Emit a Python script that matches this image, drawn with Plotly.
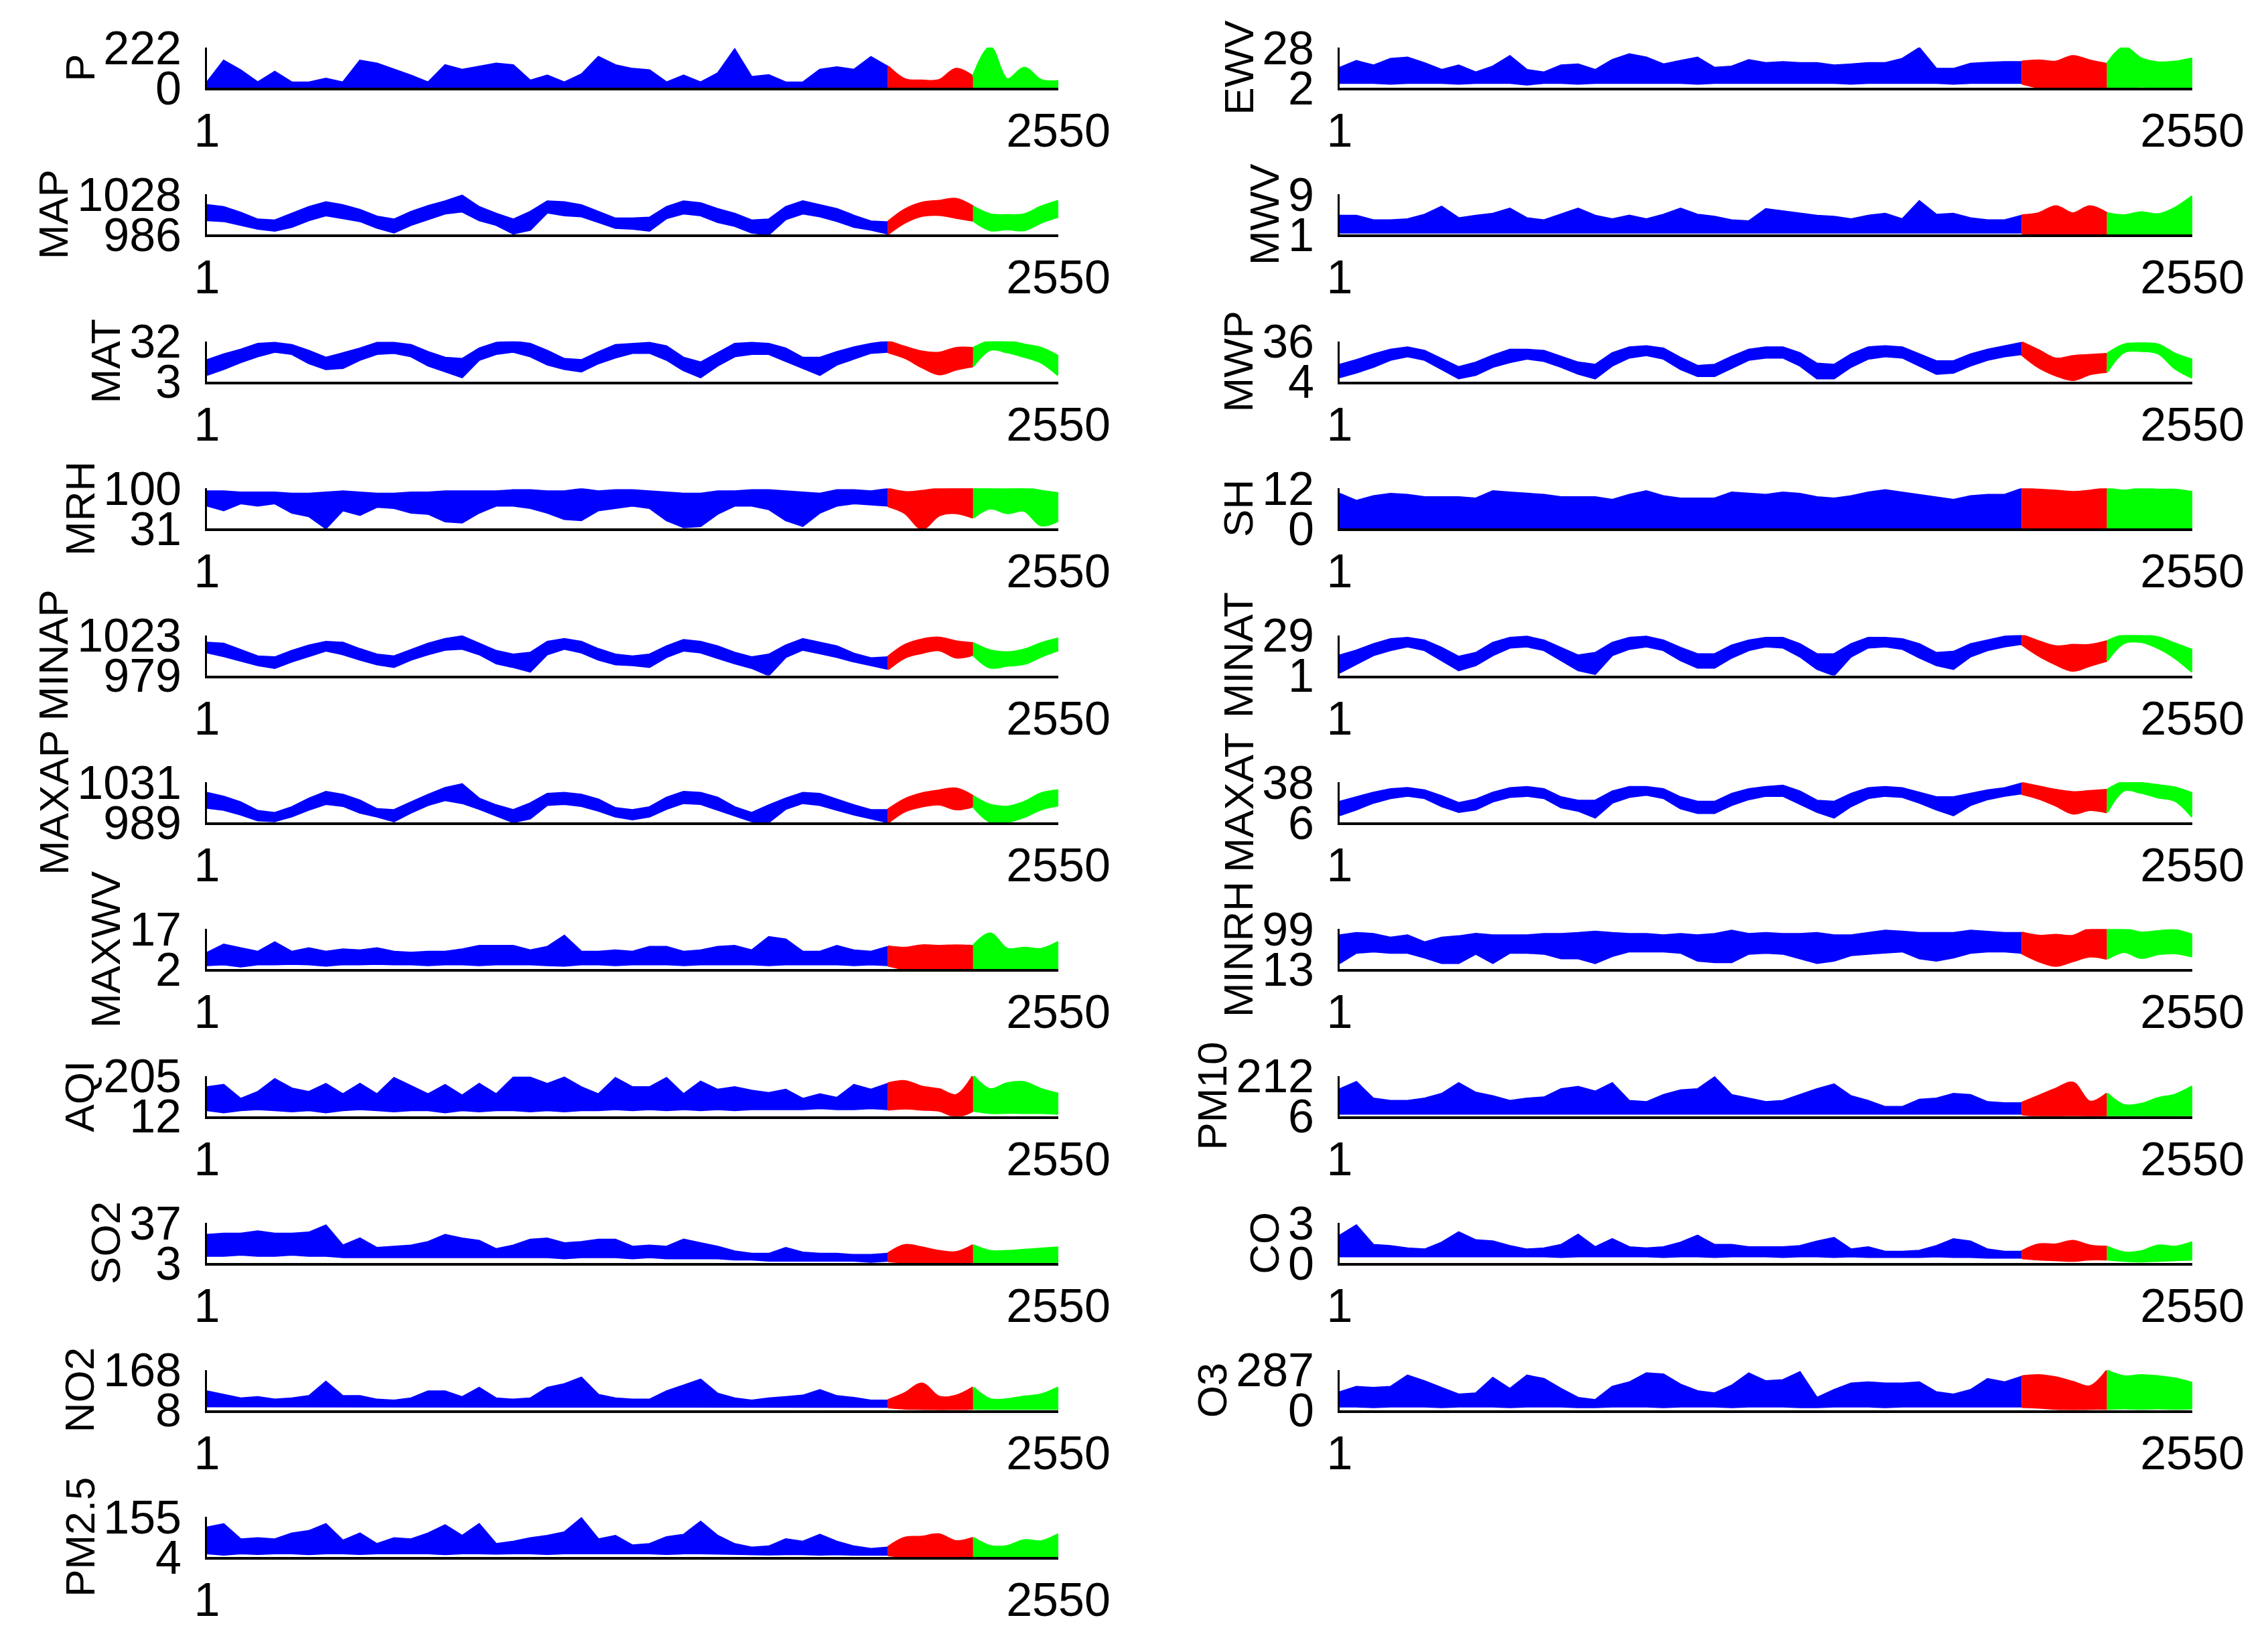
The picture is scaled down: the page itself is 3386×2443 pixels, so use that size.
import plotly.graph_objects as go

# ---------------- sample positions (day index) ----------------
sample_x = [1] + [51 * k for k in range(1, 51)]   # 51 samples, 1 .. 2550
BLUE_END = 40      # index 2040 : end of training part
RED_END = 45       # index 2295 : end of validation part

# ---------------- panel names and y limits ----------------
left_names = ["P", "MAP", "MAT", "MRH", "MINAP", "MAXAP", "MAXWV", "AQI", "SO2", "NO2", "PM2.5"]
left_ymin = [0, 986, 3, 31, 979, 989, 2, 12, 3, 8, 4]
left_ymax = [222, 1028, 32, 100, 1023, 1031, 17, 205, 37, 168, 155]

right_names = ["EWV", "MWV", "MWP", "SH", "MINAT", "MAXAT", "MINRH", "PM10", "CO", "O3"]
right_ymin = [2, 1, 4, 0, 1, 6, 13, 6, 0, 0]
right_ymax = [28, 9, 36, 12, 29, 38, 99, 212, 3, 287]

# ---------------- series envelopes (upper / lower) ----------------
P_hi = [30, 150, 97, 30, 89, 30, 30, 51, 30, 150, 134, 100, 68, 30, 125, 100, 116, 134, 125, 40,
        68, 30, 74, 171, 125, 105, 97, 30, 68, 30, 80, 213, 60, 70, 30, 30, 100, 114, 100, 170,
        116, 45, 38, 40, 103, 60, 222, 45, 108, 40, 35]
P_lo = [0, 0, 0, 0, 0, 0, 0, 0, 0, 0, 0, 0, 0, 0, 0, 0, 0, 0, 0, 0,
        0, 0, 0, 0, 0, 0, 0, 0, 0, 0, 0, 0, 0, 0, 0, 0, 0, 0, 0, 0,
        0, 0, 0, 0, 0, 0, 0, 0, 0, 0, 0]

MAP_hi = [1017, 1015, 1009, 1002, 1001, 1008, 1015, 1020, 1017, 1012, 1005, 1002, 1010, 1016, 1021, 1027, 1015, 1008, 1002, 1010,
          1021, 1020, 1017, 1010, 1003, 1003, 1004, 1015, 1021, 1019, 1013, 1008, 1001, 1002, 1015, 1021, 1017, 1013, 1006, 1000,
          999, 1012, 1019, 1021, 1023, 1015, 1007, 1006, 1007, 1015, 1021]
MAP_lo = [1001, 1000, 996, 992, 990, 994, 1001, 1006, 1003, 1000, 993, 988, 996, 1002, 1008, 1010, 1001, 996, 987, 991,
          1009, 1006, 1005, 999, 993, 992, 990, 1003, 1008, 1006, 999, 995, 988, 986, 1002, 1008, 1005, 1000, 994, 991,
          987, 999, 1006, 1007, 1004, 1001, 991, 992, 991, 999, 1005]

MAT_hi = [18.6, 22.8, 26.1, 30.3, 31.1, 29.5, 25.3, 20.3, 23.6, 27.0, 31.1, 31.1, 29.5, 24.4, 20.3, 19.4, 27.0, 31.1, 32.0, 30.3,
          25.3, 19.4, 18.6, 24.4, 29.5, 30.3, 31.1, 28.6, 20.3, 16.9, 23.6, 30.3, 31.1, 30.3, 27.0, 20.3, 20.3, 24.4, 27.8, 30.3,
          32.0, 27.8, 24.4, 23.6, 27.0, 27.0, 32.0, 32.0, 29.5, 27.0, 21.1]
MAT_lo = [7.7, 11.9, 16.9, 21.1, 24.4, 22.8, 16.1, 11.9, 12.7, 18.6, 22.8, 23.6, 21.1, 14.4, 10.2, 6.0, 18.6, 22.8, 24.4, 21.1,
          15.2, 11.9, 10.2, 16.1, 20.3, 23.6, 23.6, 18.6, 11.0, 6.0, 14.4, 21.1, 22.8, 22.8, 17.7, 12.7, 7.7, 15.2, 19.4, 23.6,
          24.4, 20.3, 13.6, 8.5, 11.9, 14.4, 26.1, 24.4, 21.1, 16.9, 7.7]

MRH_hi = [95, 95, 93, 93, 93, 91, 91, 93, 95, 93, 91, 91, 93, 93, 95, 95, 95, 95, 97, 97,
          95, 95, 99, 95, 97, 97, 95, 93, 91, 91, 95, 95, 97, 97, 95, 93, 91, 97, 97, 95,
          99, 93, 95, 99, 100, 100, 100, 99, 100, 95, 91]
MRH_lo = [70, 62, 74, 70, 74, 58, 52, 31, 62, 54, 68, 66, 58, 56, 43, 41, 58, 70, 70, 66,
          58, 47, 45, 62, 66, 70, 66, 45, 33, 35, 56, 70, 70, 64, 45, 35, 58, 70, 74, 72,
          70, 58, 31, 54, 58, 50, 66, 58, 62, 37, 45]

MINAP_hi = [1015, 1014, 1007, 1000, 999, 1006, 1012, 1016, 1015, 1008, 1002, 1000, 1007, 1014, 1019, 1022, 1014, 1006, 1002, 1004,
            1016, 1019, 1016, 1008, 1002, 1000, 1002, 1011, 1018, 1016, 1011, 1004, 999, 1002, 1012, 1019, 1015, 1011, 1003, 998,
            999, 1012, 1018, 1020, 1016, 1014, 1006, 1004, 1007, 1014, 1019]
MINAP_lo = [1004, 1000, 995, 990, 987, 994, 1000, 1006, 1002, 996, 991, 988, 996, 1002, 1007, 1008, 1002, 992, 988, 983,
            1002, 1008, 1004, 996, 991, 990, 988, 999, 1006, 1004, 998, 992, 987, 979, 999, 1007, 1003, 999, 994, 990,
            986, 999, 1004, 1007, 999, 1002, 988, 990, 992, 1000, 1007]

MAXAP_hi = [1020, 1016, 1010, 1001, 999, 1005, 1014, 1021, 1018, 1012, 1003, 1002, 1010, 1018, 1025, 1029, 1014, 1007, 1002, 1009,
            1019, 1020, 1018, 1013, 1004, 1002, 1005, 1015, 1021, 1020, 1015, 1005, 999, 1007, 1014, 1020, 1019, 1013, 1007, 1002,
            1002, 1013, 1019, 1022, 1024, 1016, 1007, 1005, 1010, 1019, 1022]
MAXAP_lo = [1004, 1002, 997, 991, 990, 995, 1002, 1008, 1006, 999, 995, 990, 999, 1007, 1012, 1009, 1003, 996, 989, 993,
            1007, 1008, 1006, 1001, 995, 992, 995, 1003, 1009, 1008, 1002, 996, 990, 989, 1003, 1009, 1007, 1002, 997, 993,
            989, 1001, 1006, 1008, 1003, 1006, 990, 990, 995, 1003, 1007]

MAXWV_hi = [8.2, 11.3, 9.9, 8.6, 12.1, 8.6, 9.9, 8.6, 9.5, 9.1, 9.9, 8.6, 8.2, 8.6, 8.6, 9.5, 10.8, 10.8, 10.8, 9.1,
            10.4, 14.6, 8.6, 8.6, 9.1, 8.6, 10.4, 10.4, 8.6, 9.1, 10.4, 10.8, 9.1, 14.1, 13.2, 8.6, 8.6, 10.8, 9.1, 8.6,
            10.4, 9.9, 10.8, 10.6, 10.8, 10.6, 15.2, 9.5, 9.9, 9.5, 12.1]
MAXWV_lo = [3.5, 3.8, 3.0, 3.8, 3.8, 4.0, 3.8, 3.3, 3.8, 3.8, 4.0, 3.8, 3.8, 3.5, 3.8, 3.8, 3.5, 3.8, 3.8, 3.8,
            3.5, 3.3, 3.8, 3.8, 3.5, 3.8, 3.8, 3.8, 3.5, 3.8, 3.8, 3.8, 3.8, 3.5, 3.8, 3.8, 3.8, 3.8, 3.5, 3.8,
            3.5, 2.2, 2.3, 2.0, 2.2, 2.3, 2.3, 2.2, 2.0, 2.2, 2.3]

AQI_hi = [152, 163, 96, 129, 191, 146, 129, 168, 118, 168, 118, 196, 157, 118, 163, 112, 168, 118, 198, 198,
          168, 198, 152, 118, 196, 152, 152, 196, 118, 179, 140, 152, 135, 124, 140, 96, 118, 101, 163, 140,
          168, 179, 152, 140, 112, 205, 140, 168, 174, 140, 118]
AQI_lo = [40, 30, 40, 45, 40, 35, 40, 30, 40, 45, 40, 35, 40, 40, 30, 40, 35, 40, 40, 35,
          40, 35, 40, 40, 45, 40, 45, 40, 45, 40, 45, 40, 45, 45, 45, 45, 50, 45, 45, 50,
          45, 51, 45, 40, 12, 40, 29, 30, 29, 29, 25]

SO2_hi = [27, 28, 28, 30, 28, 28, 29, 35, 18, 24, 16, 17, 18, 21, 27, 24, 22, 15, 18, 23,
          24, 20, 21, 23, 23, 17, 18, 17, 23, 20, 17, 13, 11, 11, 16, 12, 11, 11, 10, 10,
          11, 18, 16, 13, 12, 18, 13, 13, 14, 15, 16]
SO2_lo = [9, 9, 10, 9, 9, 10, 9, 9, 8, 8, 8, 8, 8, 8, 8, 8, 8, 8, 8, 8,
          8, 7, 8, 8, 8, 7, 8, 7, 7, 7, 7, 6, 6, 5, 5, 5, 5, 5, 5, 4,
          5, 4, 4, 4, 4, 4, 4, 4, 4, 4, 4]

NO2_hi = [83, 69, 55, 60, 50, 55, 64, 121, 64, 64, 50, 46, 55, 83, 83, 60, 97, 55, 50, 55,
          97, 112, 138, 69, 55, 50, 50, 83, 107, 130, 74, 55, 46, 55, 60, 66, 88, 64, 57, 46,
          46, 74, 112, 60, 64, 97, 50, 50, 60, 69, 97]
NO2_lo = [22, 22, 22, 20, 20, 22, 20, 22, 20, 20, 22, 22, 20, 22, 22, 20, 22, 22, 20, 20,
          22, 20, 22, 22, 22, 22, 20, 22, 22, 20, 22, 22, 20, 20, 20, 22, 22, 20, 20, 20,
          20, 15, 13, 8, 10, 14, 13, 13, 13, 13, 13]

PM25_hi = [115, 128, 71, 75, 71, 93, 102, 128, 66, 93, 53, 75, 71, 93, 124, 84, 128, 53, 62, 75,
           84, 97, 150, 71, 84, 48, 53, 79, 88, 137, 84, 53, 40, 44, 71, 62, 88, 62, 44, 35,
           40, 75, 79, 88, 62, 75, 44, 44, 66, 62, 88]
PM25_lo = [17, 12, 17, 15, 17, 17, 14, 17, 17, 15, 17, 17, 16, 17, 14, 17, 17, 16, 17, 17,
           15, 17, 17, 17, 16, 17, 17, 15, 17, 17, 16, 14, 14, 13, 14, 14, 12, 14, 12, 12,
           12, 6, 5, 5, 4, 5, 5, 4, 5, 5, 4]

EWV_hi = [15, 19.4, 16.5, 20.8, 21.6, 18, 13.6, 16.5, 12, 15.8, 22.6, 13.6, 12, 16.5, 17.2, 13.6, 20, 23.8, 21.6, 17.2,
          19.4, 21.6, 15, 15.8, 20, 18, 18.7, 18, 18, 16.5, 17.2, 18, 18, 20.8, 27.8, 14.3, 14.3, 17.6, 18.2, 18.7,
          18.7, 19.4, 18.7, 22.3, 19.4, 17.2, 28, 20.8, 18.2, 18.7, 20.8]
EWV_lo = [5, 5, 5, 4.5, 5, 5, 5, 4.5, 5, 5, 5, 4, 5, 5, 4.5, 5, 5, 5, 5, 5,
          5, 4.5, 5, 5, 5, 5, 5, 5, 5, 5, 4.5, 5, 5, 5, 5, 5, 4.5, 5, 5, 5,
          5, 2.5, 2.5, 2, 2.5, 2.5, 2.5, 3, 2.5, 2.5, 3]

MWV_hi = [4.8, 4.8, 3.9, 3.9, 4.1, 5.0, 6.6, 4.3, 4.8, 5.2, 6.2, 4.3, 3.9, 5.0, 6.2, 4.8, 4.1, 4.8, 4.1, 5.0,
          6.2, 5.0, 4.6, 3.9, 3.7, 6.1, 5.7, 5.2, 4.8, 4.6, 4.1, 4.8, 5.2, 4.1, 7.7, 5.0, 5.2, 4.3, 3.9, 3.9,
          4.8, 5.2, 6.6, 5.2, 6.6, 5.2, 4.8, 5.4, 5.0, 6.3, 8.6]
MWV_lo = [1.4, 1.4, 1.3, 1.4, 1.4, 1.4, 1.4, 1.3, 1.4, 1.4, 1.4, 1.4, 1.3, 1.4, 1.4, 1.4, 1.4, 1.4, 1.4, 1.3,
          1.4, 1.4, 1.4, 1.4, 1.3, 1.4, 1.4, 1.4, 1.4, 1.4, 1.4, 1.4, 1.4, 1.4, 1.4, 1.4, 1.4, 1.4, 1.4, 1.4,
          1.4, 1.0, 1.0, 1.0, 1.0, 1.0, 1.0, 1.0, 1.0, 1.0, 1.0]

MWP_hi = [17.5, 21.2, 25.8, 29.5, 31.4, 28.6, 22.1, 15.6, 19.3, 24.9, 29.5, 29.5, 28.6, 24.0, 19.3, 17.5, 26.7, 31.4, 32.3, 30.4,
          23.0, 16.6, 17.5, 24.0, 29.5, 31.4, 31.4, 26.7, 18.4, 17.5, 25.8, 31.4, 32.3, 31.4, 25.8, 20.3, 20.3, 25.8, 29.5, 32.3,
          35.0, 28.6, 22.1, 24.0, 24.9, 25.8, 33.2, 34.1, 33.2, 25.8, 21.2]
MWP_lo = [7.3, 11.0, 15.6, 21.2, 24.0, 21.2, 13.8, 6.4, 9.2, 15.6, 19.3, 22.1, 20.3, 15.6, 10.1, 6.4, 16.6, 23.0, 24.9, 22.1,
          13.8, 8.3, 8.3, 14.7, 21.2, 23.0, 23.0, 16.6, 6.4, 6.4, 15.6, 22.1, 24.0, 23.0, 16.6, 10.1, 11.0, 16.6, 21.2, 24.0,
          25.8, 15.6, 9.2, 5.5, 10.1, 12.0, 27.7, 28.6, 26.7, 14.7, 7.3]

SH_hi = [10.4, 8.3, 9.7, 10.4, 10.1, 9.4, 9.4, 9.4, 9.0, 11.2, 10.8, 10.4, 10.1, 9.4, 9.4, 9.4, 8.6, 10.1, 11.2, 9.7,
         9.0, 9.0, 9.0, 10.8, 10.4, 10.1, 10.8, 10.4, 9.4, 9.0, 9.7, 10.8, 11.5, 10.8, 10.1, 9.4, 8.6, 9.7, 10.1, 10.1,
         11.9, 11.5, 11.2, 10.8, 11.2, 12.0, 11.2, 11.9, 11.5, 11.5, 10.8]
SH_lo = [0, 0, 0, 0, 0, 0, 0, 0, 0, 0, 0, 0, 0, 0, 0, 0, 0, 0, 0, 0,
         0, 0, 0, 0, 0, 0, 0, 0, 0, 0, 0, 0, 0, 0, 0, 0, 0, 0, 0, 0,
         0, 0, 0, 0, 0, 0, 0, 0, 0, 0, 0]

MINAT_hi = [15.0, 18.5, 22.9, 26.4, 27.3, 25.5, 20.3, 14.1, 16.8, 23.8, 27.3, 28.1, 25.5, 20.3, 15.0, 16.8, 23.8, 27.3, 28.1, 25.5,
            20.3, 15.9, 15.9, 22.0, 25.5, 27.3, 27.3, 22.9, 15.9, 15.9, 22.9, 27.3, 27.3, 26.4, 22.9, 16.8, 17.6, 22.9, 25.5, 28.1,
            29.0, 24.6, 21.1, 22.0, 22.0, 24.6, 29.0, 29.0, 27.3, 22.9, 18.5]
MINAT_lo = [2.8, 8.9, 15.0, 18.5, 21.1, 18.5, 11.5, 4.5, 8.0, 15.0, 20.3, 21.1, 18.5, 11.5, 4.5, 1.9, 15.0, 19.4, 21.1, 18.5,
            11.5, 6.3, 6.3, 13.3, 18.5, 21.1, 20.3, 14.1, 5.4, 1.0, 14.1, 20.3, 21.1, 19.4, 13.3, 8.0, 5.4, 14.1, 18.5, 21.1,
            22.9, 15.0, 8.9, 4.5, 8.0, 11.5, 23.8, 24.6, 20.3, 13.3, 3.6]

MAXAT_hi = [22.5, 26.1, 29.8, 32.5, 33.4, 31.6, 27.0, 21.5, 24.3, 29.8, 33.4, 34.3, 32.5, 26.1, 23.4, 23.4, 30.7, 34.3, 34.3, 32.5,
            26.1, 22.5, 22.5, 28.9, 32.5, 34.3, 35.3, 30.7, 23.4, 22.5, 28.9, 33.4, 34.3, 33.4, 29.8, 26.1, 26.1, 28.9, 31.6, 33.4,
            37.1, 34.3, 31.6, 29.8, 30.7, 31.6, 38.0, 37.1, 35.3, 33.4, 28.9]
MAXAT_lo = [11.5, 16.1, 21.5, 25.2, 27.0, 25.2, 18.8, 14.2, 16.1, 22.5, 26.1, 27.0, 25.2, 17.9, 15.1, 9.7, 21.5, 26.1, 27.9, 25.2,
            17.0, 13.3, 13.3, 19.7, 24.3, 27.0, 27.0, 20.6, 14.2, 9.7, 18.8, 25.2, 27.0, 26.1, 21.5, 16.1, 11.5, 19.7, 24.3, 27.0,
            28.9, 25.2, 19.7, 13.3, 16.1, 14.2, 31.6, 29.8, 26.1, 23.4, 10.6]

MINRH_hi = [86, 91, 89, 81, 86, 71, 81, 84, 89, 86, 86, 86, 89, 89, 91, 94, 91, 89, 89, 86,
            89, 86, 89, 96, 89, 91, 89, 89, 91, 86, 86, 91, 96, 94, 91, 91, 91, 96, 94, 91,
            91, 84, 86, 84, 99, 99, 99, 91, 94, 96, 86]
MINRH_lo = [26, 48, 51, 48, 48, 38, 26, 26, 46, 26, 48, 48, 46, 36, 36, 26, 41, 51, 51, 51,
            48, 31, 28, 28, 46, 48, 46, 36, 26, 31, 43, 46, 48, 51, 36, 31, 38, 48, 51, 51,
            48, 31, 21, 31, 41, 36, 51, 38, 46, 48, 41]

PM10_hi = [145, 182, 97, 85, 85, 97, 121, 176, 127, 109, 85, 97, 103, 145, 157, 133, 176, 85, 79, 115,
           139, 145, 206, 115, 97, 79, 85, 115, 145, 170, 109, 85, 54, 54, 91, 97, 121, 115, 79, 73,
           73, 109, 145, 176, 79, 121, 61, 67, 97, 115, 157]
PM10_lo = [18, 18, 20, 18, 18, 18, 20, 18, 18, 18, 20, 18, 18, 18, 20, 18, 18, 18, 20, 18,
           18, 18, 18, 20, 18, 18, 18, 20, 18, 18, 18, 20, 18, 18, 18, 18, 18, 18, 20, 18,
           18, 8, 7, 10, 6, 8, 8, 7, 6, 7, 8]

CO_hi = [2.06, 2.83, 1.37, 1.29, 1.11, 1.03, 1.54, 2.32, 1.72, 1.63, 1.29, 1.03, 1.11, 1.37, 2.14, 1.20, 1.80, 1.20, 1.11, 1.20,
         1.54, 2.06, 1.37, 1.37, 1.20, 1.20, 1.20, 1.29, 1.63, 1.89, 1.03, 1.20, 0.86, 0.86, 0.94, 1.29, 1.80, 1.63, 1.03, 0.86,
         0.86, 1.37, 1.37, 1.63, 1.29, 1.20, 0.77, 0.86, 1.29, 1.20, 1.54]
CO_lo = [0.5, 0.5, 0.5, 0.5, 0.5, 0.5, 0.5, 0.5, 0.5, 0.5, 0.5, 0.5, 0.5, 0.45, 0.5, 0.5, 0.5, 0.5, 0.5, 0.45,
         0.5, 0.5, 0.45, 0.5, 0.5, 0.5, 0.45, 0.5, 0.5, 0.45, 0.5, 0.45, 0.45, 0.45, 0.45, 0.5, 0.45, 0.45, 0.4, 0.4,
         0.4, 0.3, 0.25, 0.2, 0.3, 0.3, 0.2, 0.15, 0.2, 0.25, 0.3]

O3_hi = [128, 167, 159, 167, 247, 207, 159, 112, 120, 231, 152, 247, 223, 152, 88, 72, 167, 199, 263, 255,
         183, 136, 120, 175, 263, 207, 215, 271, 88, 144, 191, 199, 191, 191, 199, 128, 112, 144, 223, 199,
         239, 247, 231, 199, 167, 280, 239, 247, 239, 223, 191]
O3_lo = [24, 24, 20, 24, 24, 24, 20, 24, 24, 24, 20, 24, 24, 24, 20, 20, 24, 24, 24, 20,
         24, 24, 24, 20, 24, 24, 24, 20, 20, 24, 24, 24, 20, 24, 24, 24, 24, 24, 24, 24,
         24, 20, 10, 0, 10, 10, 15, 10, 15, 10, 15]

series = {
    "P": (P_hi, P_lo), "MAP": (MAP_hi, MAP_lo), "MAT": (MAT_hi, MAT_lo), "MRH": (MRH_hi, MRH_lo),
    "MINAP": (MINAP_hi, MINAP_lo), "MAXAP": (MAXAP_hi, MAXAP_lo), "MAXWV": (MAXWV_hi, MAXWV_lo),
    "AQI": (AQI_hi, AQI_lo), "SO2": (SO2_hi, SO2_lo), "NO2": (NO2_hi, NO2_lo), "PM2.5": (PM25_hi, PM25_lo),
    "EWV": (EWV_hi, EWV_lo), "MWV": (MWV_hi, MWV_lo), "MWP": (MWP_hi, MWP_lo), "SH": (SH_hi, SH_lo),
    "MINAT": (MINAT_hi, MINAT_lo), "MAXAT": (MAXAT_hi, MAXAT_lo), "MINRH": (MINRH_hi, MINRH_lo),
    "PM10": (PM10_hi, PM10_lo), "CO": (CO_hi, CO_lo), "O3": (O3_hi, O3_lo),
}
bad = [k for k, (h, l) in series.items() if len(h) != 51 or len(l) != 51]
if bad:
    raise SystemExit("bad lengths: " + ", ".join(bad))

# ---------------- geometry (pixels) ----------------
W, H = 3386, 2443
LEFT_X = (301, 1572)
RIGHT_X = (1992, 3265)
ROW_TOP0, ROW_PITCH, ROW_H = 63, 219.4, 60
FONT = "Liberation Sans, Arial, sans-serif"
TICK_SIZE = 70
TITLE_SIZE = 62
DIGIT_W = 0.556 * TICK_SIZE     # width of one digit of the tick font
TICK_GAP = 21                   # axis -> right edge of y tick labels
TITLE_GAP = 29                  # left edge of y tick labels -> y title

fig = go.Figure()
layout = dict(
    width=W, height=H, margin=dict(l=0, r=0, t=0, b=0, autoexpand=False),
    paper_bgcolor="white", plot_bgcolor="white", showlegend=False,
    font=dict(family=FONT, color="black", size=TICK_SIZE),
)
annotations = []

panels = []
for r, (nm, lo_, hi_) in enumerate(zip(left_names, left_ymin, left_ymax)):
    panels.append((nm, lo_, hi_, LEFT_X, r))
for r, (nm, lo_, hi_) in enumerate(zip(right_names, right_ymin, right_ymax)):
    panels.append((nm, lo_, hi_, RIGHT_X, r))

segments = [
    (0, BLUE_END, "rgb(0,0,255)", "linear", 2.5),
    (BLUE_END, RED_END, "rgb(255,0,0)", "spline", 4),
    (RED_END, 50, "rgb(0,255,0)", "spline", 4),
]

for i, (nm, ymin, ymax, xpx, r) in enumerate(panels):
    n = i + 1
    top = ROW_TOP0 + ROW_PITCH * r
    bot = top + ROW_H
    xs = "x" if n == 1 else f"x{n}"
    ys = "y" if n == 1 else f"y{n}"
    layout["xaxis" if n == 1 else f"xaxis{n}"] = dict(
        domain=[xpx[0] / W, xpx[1] / W], anchor=ys, range=[1, 2550],
        tickmode="array", tickvals=[1, 2550], ticktext=["1", "2550"],
        ticks="inside", ticklen=12, tickwidth=3, tickcolor="black",
        showline=True, linecolor="black", linewidth=4,
        showgrid=False, zeroline=False, tickfont=dict(size=TICK_SIZE),
        ticklabelstandoff=0, fixedrange=True,
    )
    layout["yaxis" if n == 1 else f"yaxis{n}"] = dict(
        domain=[1 - bot / H, 1 - top / H], anchor=xs, range=[ymin, ymax],
        tickmode="array", tickvals=[ymin, ymax], ticktext=[str(ymin), str(ymax)],
        ticks="inside", ticklen=12, tickwidth=3, tickcolor="black",
        showline=True, linecolor="black", linewidth=3,
        showgrid=False, zeroline=False, tickfont=dict(size=TICK_SIZE),
        ticklabelstandoff=TICK_GAP, fixedrange=True,
    )
    # y-axis title, placed left of the tick labels as in the original
    lblw = max(len(str(ymin)), len(str(ymax))) * DIGIT_W
    title_right = xpx[0] - TICK_GAP - lblw - TITLE_GAP + 0.21 * TITLE_SIZE
    annotations.append(dict(
        text=nm, xref="paper", yref="paper", x=title_right / W, y=1 - (top + bot) / 2 / H,
        xanchor="right", yanchor="middle", textangle=-90, showarrow=False,
        font=dict(size=TITLE_SIZE, family=FONT, color="black"),
    ))
    hi, lo = series[nm]
    for a, b, col, shape, wdt in segments:
        xx = sample_x[a:b + 1]
        line = dict(color=col, width=wdt, shape=shape)
        if shape == "spline":
            line["smoothing"] = 1.0
        fig.add_trace(go.Scatter(x=xx, y=lo[a:b + 1], mode="lines", line=line,
                                 xaxis=xs, yaxis=ys, hoverinfo="skip"))
        fig.add_trace(go.Scatter(x=xx, y=hi[a:b + 1], mode="lines", line=line,
                                 fill="tonexty", fillcolor=col,
                                 xaxis=xs, yaxis=ys, hoverinfo="skip"))

layout["annotations"] = annotations
fig.update_layout(**layout)
fig.write_html("out.html")
